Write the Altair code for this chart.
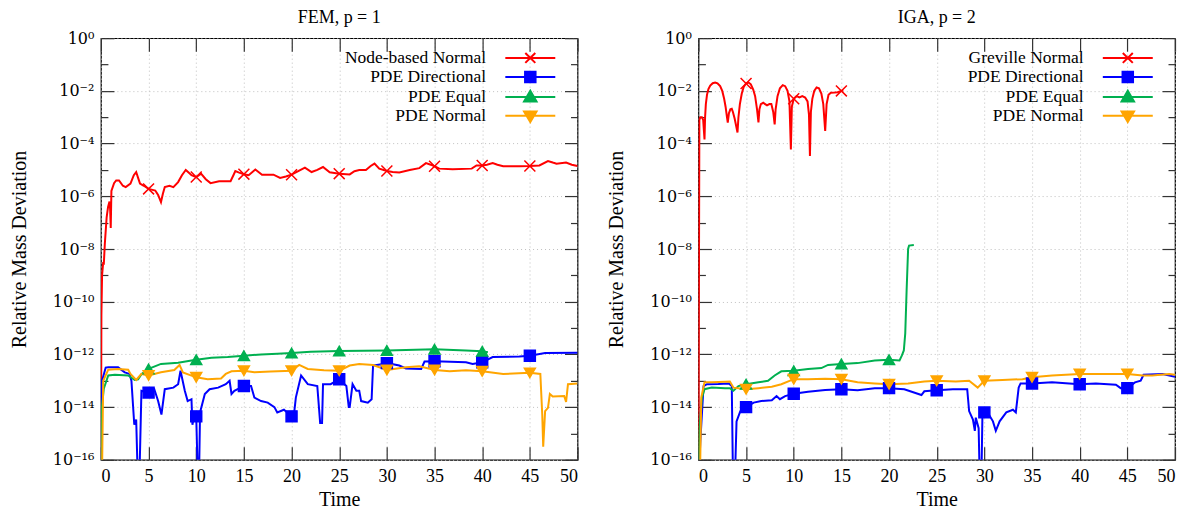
import altair as alt
import pandas as pd

FONT = "Liberation Serif"
TICK_FONT = "DejaVu Serif"

SERIES_FEM = ["Node-based Normal", "PDE Directional", "PDE Equal", "PDE Normal"]
SERIES_IGA = ["Greville Normal", "PDE Directional", "PDE Equal", "PDE Normal"]
COLORS = ["#ff0000", "#0000ff", "#00b050", "#ffa500"]

# (time, log10 of relative mass deviation)
FEM_NODE = [(0, -17), (0.05, -10.5), (0.12, -9.0), (0.24, -8.5), (0.3, -8.6), (0.41, -7.8), (0.6, -6.8),
            (0.75, -6.4), (0.9, -6.2), (0.97, -6.5), (1.03, -7.2), (1.1, -5.8), (1.38, -5.5), (1.6, -5.4),
            (1.9, -5.4), (2.3, -5.6), (2.6, -5.65), (3.1, -5.52), (3.45, -5.2), (3.7, -5.08), (3.9, -5.3),
            (4.1, -5.52), (4.5, -5.6), (5.0, -5.72), (5.7, -5.78), (6.0, -5.95), (6.3, -6.22), (6.5, -5.9),
            (6.7, -5.65), (7.2, -5.6), (7.6, -5.65), (8.1, -5.46), (8.5, -5.2), (8.9, -5.0), (9.2, -5.1),
            (9.5, -5.2), (10.0, -5.27), (10.5, -5.14), (11.0, -5.35), (11.5, -5.5), (12.4, -5.43),
            (13.6, -5.43), (13.9, -5.2), (14.1, -5.04), (14.5, -5.1), (15.0, -5.16), (15.5, -5.2),
            (16.2, -4.98), (16.9, -5.18), (18.1, -5.18), (18.8, -5.3), (19.4, -5.25), (20.0, -5.18),
            (20.5, -5.08), (21.4, -4.91), (22.1, -5.08), (22.7, -5.0), (23.3, -4.89), (24.0, -5.09),
            (25.0, -5.14), (26.1, -5.17), (26.6, -5.05), (27.1, -5.0), (27.8, -5.0), (28.3, -4.85),
            (28.7, -4.76), (29.2, -4.95), (30.0, -5.04), (30.6, -5.08), (31.3, -5.1), (32.4, -5.0),
            (33.4, -4.93), (34.1, -4.74), (34.6, -4.8), (35.0, -4.86), (35.5, -4.95), (36.9, -4.97),
            (38.9, -4.95), (39.4, -4.83), (40.0, -4.83), (40.5, -4.8), (41.1, -4.74), (41.6, -4.8),
            (42.2, -4.86), (43.9, -4.86), (45.0, -4.85), (46.0, -4.83), (46.9, -4.66), (47.4, -4.72),
            (47.8, -4.76), (48.8, -4.72), (49.4, -4.8), (50.0, -4.85)]

FEM_DIR = [(0, -17), (0.08, -13.0), (0.2, -12.9), (0.5, -12.5), (0.77, -12.49), (1.8, -12.49), (2.5, -12.68),
           (3.0, -12.74), (3.2, -13.0), (3.5, -14.67), (3.7, -14.47), (3.85, -16.5), (4.05, -16.5),
           (4.25, -13.38), (5.0, -13.45), (5.6, -13.32), (6.0, -13.77), (6.35, -14.28), (6.7, -13.32),
           (7.6, -13.26), (8.1, -13.13), (8.35, -12.62), (8.8, -13.38), (9.1, -13.77), (9.5, -13.7),
           (9.6, -14.67), (9.8, -14.28), (10.0, -14.35), (10.15, -16.5), (10.3, -16.5), (10.4, -14.2),
           (10.9, -13.5), (11.4, -13.32), (12.3, -13.26), (13.1, -13.13), (13.5, -13.0), (13.7, -13.5),
           (14.0, -13.38), (15.0, -13.2), (15.75, -13.2), (16.1, -13.64), (16.8, -13.77), (17.5, -13.83),
           (18.2, -14.0), (18.5, -14.2), (19.2, -14.1), (20.0, -14.35), (20.2, -14.45), (20.45, -13.64),
           (21.0, -12.8), (21.7, -13.13), (22.7, -13.2), (23.0, -14.6), (23.2, -14.6), (23.3, -13.13),
           (24.1, -13.13), (25.0, -12.94), (25.75, -13.2), (26.0, -14.0), (26.1, -14.0), (26.4, -13.13),
           (26.8, -13.38), (27.1, -13.38), (27.3, -13.77), (28.0, -13.83), (28.4, -13.7), (28.55, -12.42),
           (29.6, -12.36), (30.0, -12.33), (31.3, -12.42), (32.0, -12.53), (33.6, -12.55), (33.95, -12.27),
           (35.0, -12.26), (38.3, -12.3), (39.0, -12.36), (40.0, -12.3), (41.1, -12.1), (43.9, -12.08),
           (45.0, -12.05), (46.6, -11.95), (50.0, -11.94)]

FEM_EQ = [(0, -17), (0.05, -14.2), (0.3, -13.3), (0.77, -12.8), (1.46, -12.77), (2.86, -12.8), (3.55, -12.97),
          (3.9, -12.95), (4.25, -12.75), (5.0, -12.55), (6.3, -12.36), (8.1, -12.32), (9.5, -12.23),
          (10.0, -12.2), (11.6, -12.13), (13.3, -12.1), (15.0, -12.05), (16.8, -12.0), (18.5, -11.97),
          (20.0, -11.95), (22.0, -11.9), (25.0, -11.87), (30.0, -11.85), (35.0, -11.8), (38.3, -11.85),
          (40.0, -11.88), (40.6, -11.92)]

FEM_NORM = [(0, -17), (0.1, -17), (0.24, -13.0), (0.77, -12.58), (1.8, -12.55), (2.86, -12.58), (3.1, -12.74),
            (3.7, -12.97), (4.25, -12.74), (5.0, -12.8), (6.3, -12.68), (7.7, -12.59), (8.25, -12.4),
            (8.6, -12.68), (10.0, -12.87), (11.2, -12.94), (12.6, -12.91), (13.1, -12.74), (13.7, -12.64),
            (15.0, -12.62), (16.1, -12.68), (17.8, -12.65), (20.0, -12.62), (20.8, -12.4), (21.7, -12.55),
            (23.4, -12.6), (25.0, -12.62), (26.1, -12.42), (27.1, -12.36), (28.55, -12.4), (30.0, -12.59),
            (32.0, -12.49), (33.4, -12.45), (35.0, -12.59), (36.6, -12.64), (38.3, -12.6), (40.0, -12.64),
            (42.2, -12.74), (45.0, -12.7), (46.1, -12.74), (46.3, -14.28), (46.4, -15.5), (46.6, -14.15),
            (46.9, -14.03), (47.1, -13.5), (47.4, -13.6), (48.6, -13.58), (48.8, -13.8), (49.0, -13.13),
            (50.0, -13.1)]

IGA_GREV = [(0, -17), (0.1, -3.1), (0.2, -3.0), (0.37, -3.0), (0.5, -3.1), (0.64, -3.84), (0.7, -3.0),
            (0.78, -2.5), (0.9, -2.15), (1.05, -1.93), (1.24, -1.8), (1.5, -1.71), (1.76, -1.68),
            (2.0, -1.71), (2.28, -1.82), (2.5, -2.0), (2.7, -2.3), (2.85, -2.6), (3.0, -3.0), (3.08, -3.2),
            (3.2, -2.85), (3.35, -2.7), (3.5, -2.68), (3.62, -2.8), (3.8, -3.05), (4.0, -3.4), (4.1, -3.58),
            (4.2, -3.0), (4.35, -2.5), (4.55, -2.1), (4.75, -1.85), (5.0, -1.72), (5.25, -1.68),
            (5.5, -1.75), (5.75, -1.95), (5.95, -2.2), (6.15, -2.7), (6.3, -3.2), (6.4, -2.7), (6.55, -2.5),
            (6.8, -2.45), (7.0, -2.5), (7.2, -2.55), (7.45, -2.5), (7.65, -2.5), (7.85, -2.8), (8.0, -3.27),
            (8.1, -2.7), (8.3, -2.2), (8.55, -1.9), (8.85, -1.78), (9.1, -1.82), (9.35, -2.0), (9.55, -2.4),
            (9.7, -4.22), (9.8, -2.6), (10.0, -2.3), (10.3, -2.2), (10.6, -2.25), (10.9, -2.2),
            (11.2, -2.25), (11.45, -2.4), (11.6, -2.9), (11.7, -4.47), (11.8, -2.8), (11.95, -2.3),
            (12.15, -2.0), (12.4, -1.87), (12.65, -1.9), (12.9, -2.1), (13.1, -2.5), (13.3, -3.52),
            (13.45, -2.5), (13.65, -2.15), (13.9, -2.07), (14.3, -2.06), (14.6, -2.05), (15.0, -2.0),
            (15.2, -1.98)]

IGA_DIR = [(0, -17), (0.2, -15.3), (0.54, -13.2), (0.9, -13.13), (2.1, -13.12), (3.2, -13.1), (3.5, -13.2),
           (3.62, -16.5), (3.85, -16.5), (4.0, -14.54), (4.4, -14.15), (5.0, -14.0), (5.8, -13.83),
           (6.6, -13.77), (7.7, -13.74), (8.2, -13.58), (8.55, -13.7), (9.1, -13.58), (10.0, -13.49),
           (11.5, -13.42), (13.3, -13.35), (15.0, -13.32), (16.7, -13.36), (18.5, -13.28), (20.0, -13.28),
           (21.6, -13.32), (23.4, -13.54), (23.7, -13.4), (25.0, -13.36), (26.7, -13.32), (28.2, -13.32),
           (28.4, -14.15), (28.8, -14.47), (29.0, -14.9), (29.1, -14.4), (29.4, -14.8), (29.5, -16.5),
           (29.7, -16.5), (29.8, -14.2), (30.0, -14.2), (30.5, -14.3), (30.9, -14.54), (31.2, -14.9),
           (31.6, -14.54), (32.3, -14.2), (33.0, -14.1), (33.3, -14.2), (33.6, -13.26), (33.8, -13.1),
           (35.0, -13.1), (37.1, -13.06), (38.9, -13.1), (40.0, -13.13), (41.7, -13.1), (43.8, -13.15),
           (44.3, -13.28), (45.0, -13.28), (45.8, -13.06), (46.4, -13.0), (46.7, -12.77), (48.7, -12.74),
           (50.0, -12.85)]

IGA_EQ = [(0, -17), (0.1, -14.9), (0.37, -13.64), (0.64, -13.32), (1.4, -13.26), (2.8, -13.28), (3.3, -13.28),
          (3.67, -13.38), (4.2, -13.2), (5.0, -13.13), (6.3, -13.06), (7.3, -13.0), (8.0, -12.8),
          (8.7, -12.64), (10.0, -12.62), (11.5, -12.55), (12.9, -12.52), (13.6, -12.4), (15.0, -12.36),
          (16.7, -12.33), (18.5, -12.23), (20.0, -12.2), (21.1, -12.23), (21.35, -12.04), (21.55, -11.85),
          (21.7, -11.2), (21.85, -9.5), (22.0, -8.0), (22.1, -7.87), (22.6, -7.85)]

IGA_NORM = [(0, -17), (0.15, -17), (0.3, -13.64), (0.64, -13.06), (1.4, -13.06), (2.8, -13.04), (3.3, -13.03),
            (3.67, -13.26), (5.0, -13.32), (6.3, -13.28), (7.7, -13.23), (8.7, -13.13), (10.0, -12.94),
            (11.5, -12.94), (13.3, -12.92), (15.0, -12.94), (16.7, -13.06), (18.5, -13.1), (20.0, -13.13),
            (22.0, -13.1), (23.7, -13.03), (25.0, -13.0), (27.0, -13.03), (28.4, -13.0), (29.3, -13.26),
            (30.0, -13.0), (31.9, -12.97), (34.0, -12.94), (35.0, -12.87), (37.1, -12.8), (40.0, -12.74),
            (42.4, -12.74), (45.0, -12.74), (46.6, -12.8), (47.6, -12.8), (49.4, -12.74), (50.0, -12.77)]

X_TICKS = list(range(0, 51, 5))
Y_MAJOR_EXP = list(range(0, -17, -2))
Y_MINOR_EXP = list(range(-1, -16, -2))

# marker glyphs (plot) and legend glyphs (line sample + marker)
MARK_SHAPES = ["M-1,-1L1,1M-1,1L1,-1", "square", "triangle-up", "triangle-down"]
LEG_SHAPES = [
    "M-5,0L5,0M-1,-1L1,1M-1,1L1,-1",
    "M-5,0L5,0M-1.05,-1.05L1.05,-1.05L1.05,1.05L-1.05,1.05Z",
    "M-5,0L5,0M0,-1.25L1.25,0.9L-1.25,0.9Z",
    "M-5,0L5,0M0,1.25L1.25,-0.9L-1.25,-0.9Z",
]


def make_df(names, series):
    rows = []
    for name, pts in zip(names, series):
        for t, e in pts:
            rows.append({"series": name, "t": t, "dev": 10.0 ** e})
    return pd.DataFrame(rows)


SUP = str.maketrans("-0123456789", "⁻⁰¹²³⁴⁵⁶⁷⁸⁹")
LABEL_EXPR = "".join(
    f"round(log(datum.value)/LN10) == {e} ? '10{str(e).translate(SUP)}' : " for e in Y_MAJOR_EXP
) + "''"

MAJOR = [10.0 ** e for e in Y_MAJOR_EXP]
MINOR = [10.0 ** e for e in Y_MINOR_EXP]


def panel(df, names, title):
    xs = alt.Scale(domain=[0, 50], nice=False, zero=False)
    ys = alt.Scale(type="log", domain=[1e-16, 1], nice=False)

    def cscale():
        return alt.Scale(domain=names, range=COLORS)

    leg = alt.Legend(
        orient="none", legendX=421, legendY=11, title=None, labelAlign="right",
        labelOffset={"expr": "-53"},
        labelFont=FONT, labelFontSize=17.5, labelColor="black", labelLimit=0,
        symbolSize=100, symbolStrokeWidth=2, symbolFillColor="#000000",
        symbolOpacity=1, rowPadding=0, padding=0,
    )

    base = alt.Chart(df)
    line = base.mark_line(clip=True, strokeWidth=2).encode(
        x=alt.X("t:Q", scale=xs, axis=alt.Axis(
            orient="bottom", values=X_TICKS, format="d", title="Time", offset=-13, tickSize=13,
            grid=True, domain=False, labelPadding=8, titlePadding=4)),
        y=alt.Y("dev:Q", scale=ys, axis=alt.Axis(
            orient="left", values=MAJOR, labelExpr=LABEL_EXPR, title="Relative Mass Deviation",
            offset=-13, tickSize=13, grid=True, domain=False, labelPadding=7, titlePadding=23,
            labelFont=TICK_FONT, labelFontSize=16)),
        color=alt.Color("series:N", scale=cscale(), legend=None),
    )
    markers = base.transform_filter(
        "datum.t > 0 && datum.t < 50 && datum.t % 5 == 0"
    ).mark_point(filled=True, size=120, strokeWidth=1.5, opacity=1, clip=True).encode(
        x=alt.X("t:Q", scale=xs, axis=alt.Axis(
            orient="top", values=X_TICKS, labels=False, title=None, offset=-13, tickSize=13,
            grid=False, domain=False)),
        y=alt.Y("dev:Q", scale=ys, axis=alt.Axis(
            orient="left", values=MINOR, labels=False, title=None, offset=-7, tickSize=7,
            grid=False, domain=False)),
        color=alt.Color("series:N", scale=cscale(), legend=None),
        stroke=alt.Stroke("series:N", scale=cscale(), legend=None),
        shape=alt.Shape("series:N", scale=alt.Scale(domain=names, range=MARK_SHAPES), legend=None),
    )
    legend_layer = base.transform_filter("false").mark_point(filled=True, opacity=1).encode(
        x=alt.X("t:Q", scale=xs, axis=None),
        y=alt.Y("dev:Q", scale=ys, axis=alt.Axis(
            orient="right", values=MAJOR, labels=False, title=None, offset=-13, tickSize=13,
            grid=False, domain=False)),
        fill=alt.Fill("series:N", scale=cscale(), legend=leg),
        stroke=alt.Stroke("series:N", scale=cscale(), legend=leg),
        shape=alt.Shape("series:N", scale=alt.Scale(domain=names, range=LEG_SHAPES), legend=leg),
    )
    minor_right = base.transform_filter("false").mark_point(opacity=0).encode(
        x=alt.X("t:Q", scale=xs, axis=None),
        y=alt.Y("dev:Q", scale=ys, axis=alt.Axis(
            orient="right", values=MINOR, labels=False, title=None, offset=-7, tickSize=7,
            grid=False, domain=False)),
    )
    return alt.layer(line, markers, legend_layer, minor_right).resolve_scale(
        color="independent", shape="independent", stroke="independent", fill="independent"
    ).resolve_axis(x="independent", y="independent").properties(
        width=477, height=422,
        title=alt.TitleParams(title, font=FONT, fontSize=18, fontWeight="normal", color="black",
                              offset=3, anchor="middle", frame="group"),
    )


left = panel(make_df(SERIES_FEM, [FEM_NODE, FEM_DIR, FEM_EQ, FEM_NORM]), SERIES_FEM, "FEM, p = 1")
right = panel(make_df(SERIES_IGA, [IGA_GREV, IGA_DIR, IGA_EQ, IGA_NORM]), SERIES_IGA, "IGA, p = 2")

chart = alt.hconcat(left, right, spacing=26).resolve_scale(
    x="independent", y="independent", color="independent", shape="independent",
    stroke="independent", fill="independent"
).resolve_legend(color="independent", shape="independent", stroke="independent",
                 fill="independent").configure_view(
    stroke="black", strokeWidth=1.2
).configure_axis(
    labelFont=FONT, titleFont=FONT, labelFontSize=18, titleFontSize=20, labelColor="black",
    titleColor="black", titleFontWeight="normal", tickColor="#333333", tickWidth=1.2,
    gridColor="#c0c0c0", gridDash=[1, 3], gridWidth=1,
).properties(padding={"left": 0, "top": 0, "right": 0, "bottom": 0})

chart.save("out.html", embed_options={"renderer": "svg", "actions": False})
